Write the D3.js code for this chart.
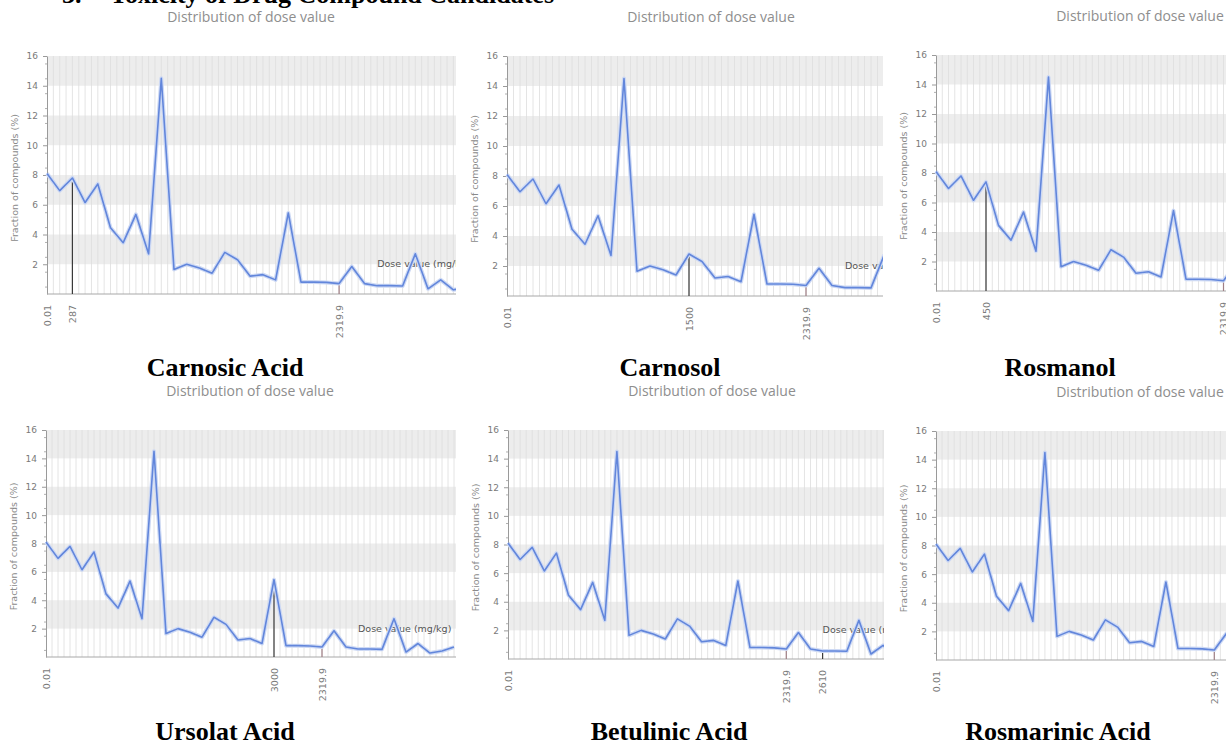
<!DOCTYPE html>
<html>
<head>
<meta charset="utf-8">
<script src="https://cdn.jsdelivr.net/npm/d3@7"></script>
<style>
  body { margin: 0; background: #fff; }
  svg { display: block; }
</style>
</head>
<body>
<svg id="chart" width="1226" height="744"></svg>
<script>
// same distribution in every panel: fraction of compounds (%) per dose bin
const fraction = [8.1, 6.95, 7.8, 6.15, 7.4, 4.45, 3.45, 5.35, 2.7, 14.5,
                  1.65, 2.0, 1.75, 1.4, 2.8, 2.3, 1.2, 1.3, 0.95, 5.45,
                  0.8, 0.8, 0.78, 0.7, 1.85, 0.7, 0.56, 0.56, 0.54, 2.7,
                  0.35, 0.95, 0.28, 0.42, 0.7];
const yTicks = [2, 4, 6, 8, 10, 12, 14, 16];
const shadedBands = [2, 6, 10, 14]; // grey band from v to v+2

const compounds = ["Carnosic Acid", "Carnosol", "Rosmanol", "Ursolat Acid", "Betulinic Acid", "Rosmarinic Acid"];
const compoundDose = ["287", "1500", "450", "3000", "2610", null];
const compoundBin = [2, 14, 4, 19, 26, null];
const firstDose = "0.01";
const refDose = "2319.9";
const refBin = 23;
const axisTitleBin = 26;

const chartTitle = "Distribution of dose value";
const yTitle = "Fraction of compounds (%)";
const xTitle = "Dose value (mg/kg)";
const heading = ["3.", "Toxicity of Drug Compound Candidates"];

// position of each cropped screenshot on the page
const panels = [
  { x0: 47,  y16: 56,  y0: 294, step: 12.7, right: 456,  capX: 225,  capY: 376 },
  { x0: 507, y16: 56,  y0: 296, step: 13.0, right: 883,  capX: 670,  capY: 376 },
  { x0: 936, y16: 55,  y0: 291, step: 12.5, right: 1226, capX: 1060, capY: 376 },
  { x0: 46,  y16: 430, y0: 657, step: 12.0, right: 456,  capX: 225,  capY: 740 },
  { x0: 508, y16: 430, y0: 659, step: 12.1, right: 884,  capX: 669,  capY: 740 },
  { x0: 936, y16: 431, y0: 660, step: 12.1, right: 1226, capX: 1058, capY: 740 }
];

const svg = d3.select("#chart");
const n = fraction.length;
const defs = svg.append("defs");

// heading, cut off at the top like in the scan
svg.append("text").attr("x", 62).attr("y", 3).text(heading[0])
  .attr("font-family", "Liberation Serif, Times New Roman, serif").attr("font-weight", "bold").attr("font-size", 26);
svg.append("text").attr("x", 110).attr("y", 3).text(heading[1])
  .attr("font-family", "Liberation Serif, Times New Roman, serif").attr("font-weight", "bold").attr("font-size", 26);

panels.forEach((p, i) => {
  const clipId = "clip" + i;
  defs.append("clipPath").attr("id", clipId)
    .append("rect")
    .attr("x", p.x0 - 60).attr("y", p.y16 - 60)
    .attr("width", p.right - (p.x0 - 60)).attr("height", p.y0 - p.y16 + 120);

  const g = svg.append("g").attr("clip-path", `url(#${clipId})`);

  const x = d3.scalePoint().domain(d3.range(n)).range([p.x0, p.x0 + p.step * (n - 1)]);
  const y = d3.scaleLinear().domain([0, 16]).range([p.y0, p.y16]);
  const plotW = p.right - p.x0 + 20;

  // shaded bands
  g.selectAll("rect.band").data(shadedBands).join("rect")
    .attr("class", "band")
    .attr("x", p.x0).attr("width", plotW)
    .attr("y", d => y(d + 2)).attr("height", d => y(d) - y(d + 2))
    .attr("fill", "#ededed");

  // vertical grid, every half bin
  const gridX = [];
  d3.range(n).forEach(k => {
    gridX.push(x(k));
    if (k < n - 1) gridX.push((x(k) + x(k + 1)) / 2);
  });
  g.selectAll("line.vgrid").data(gridX.slice(1)).join("line")
    .attr("class", "vgrid")
    .attr("x1", d => d).attr("x2", d => d)
    .attr("y1", y(16)).attr("y2", y(0))
    .attr("stroke", "#dddddd").attr("stroke-width", 0.8);

  // y axis
  const yAxis = g.append("g").attr("transform", `translate(${p.x0},0)`)
    .call(d3.axisLeft(y).tickValues(yTicks).tickSize(4).tickSizeOuter(0).tickPadding(5));
  yAxis.select(".domain").attr("stroke", "#9a9a9a");
  yAxis.selectAll(".tick line").attr("stroke", "#9a9a9a");
  yAxis.selectAll(".tick text").attr("fill", "#7a7a7a")
    .attr("font-family", "DejaVu Sans, sans-serif").attr("font-size", 9);
  const yMinor = g.append("g").attr("transform", `translate(${p.x0},0)`)
    .call(d3.axisLeft(y).tickValues(d3.range(0.5, 16, 1)).tickSize(2).tickFormat(""));
  yMinor.select(".domain").remove();
  yMinor.selectAll(".tick line").attr("stroke", "#b0b0b0");

  // x axis line
  g.append("line")
    .attr("x1", p.x0).attr("x2", p.right + 10)
    .attr("y1", y(0)).attr("y2", y(0))
    .attr("stroke", "#a8a8a8");

  // marker lines
  g.append("line")
    .attr("x1", x(refBin)).attr("x2", x(refBin))
    .attr("y1", y(0)).attr("y2", y(fraction[refBin]))
    .attr("stroke", "#a07f85").attr("stroke-width", 1.2);
  if (compoundBin[i] !== null) {
    g.append("line")
      .attr("x1", x(compoundBin[i])).attr("x2", x(compoundBin[i]))
      .attr("y1", y(0)).attr("y2", y(fraction[compoundBin[i]]))
      .attr("stroke", "#3a3a3a").attr("stroke-width", 1.2);
  }

  // axis title inside plot
  g.append("text")
    .attr("x", x(axisTitleBin)).attr("y", y(2) + 3)
    .attr("font-family", "DejaVu Sans, sans-serif").attr("font-size", 9.5)
    .attr("fill", "#555").text(xTitle);

  // distribution line with soft halo
  const line = d3.line().x((d, k) => x(k)).y(d => y(d));
  g.append("path").datum(fraction)
    .attr("d", line).attr("fill", "none")
    .attr("stroke", "#cdd9f4").attr("stroke-width", 4).attr("stroke-linejoin", "round");
  g.append("path").datum(fraction)
    .attr("d", line).attr("fill", "none")
    .attr("stroke", "#6286db").attr("stroke-width", 1.6).attr("stroke-linejoin", "round");

  // x labels (rotated)
  const labels = [{ bin: 0, text: firstDose }, { bin: refBin, text: refDose }];
  if (compoundBin[i] !== null) labels.push({ bin: compoundBin[i], text: compoundDose[i] });
  g.selectAll("text.xl").data(labels).join("text")
    .attr("class", "xl")
    .attr("transform", d => `translate(${x(d.bin) + 3.5},${y(0) + 11}) rotate(-90)`)
    .attr("text-anchor", "end")
    .attr("font-family", "DejaVu Sans, sans-serif").attr("font-size", 9.5)
    .attr("fill", "#7a7a7a").text(d => d.text);

  // y title
  g.append("text")
    .attr("transform", `translate(${p.x0 - 29},${(y(0) + y(16)) / 2 + 3}) rotate(-90)`)
    .attr("text-anchor", "middle")
    .attr("font-family", "DejaVu Sans, sans-serif").attr("font-size", 9.5)
    .attr("fill", "#8a8a8a").text(yTitle);

  // chart title
  g.append("text")
    .attr("x", p.x0 + 204).attr("y", y(16) - 34)
    .attr("text-anchor", "middle")
    .attr("font-family", "Open Sans, sans-serif").attr("font-size", 14)
    .attr("fill", "#8e8e8e").text(chartTitle);

  // caption under the picture
  svg.append("text")
    .attr("x", p.capX).attr("y", p.capY)
    .attr("text-anchor", "middle")
    .attr("font-family", "Liberation Serif, Times New Roman, serif")
    .attr("font-weight", "bold").attr("font-size", 26)
    .text(compounds[i]);
});
</script>
</body>
</html>
